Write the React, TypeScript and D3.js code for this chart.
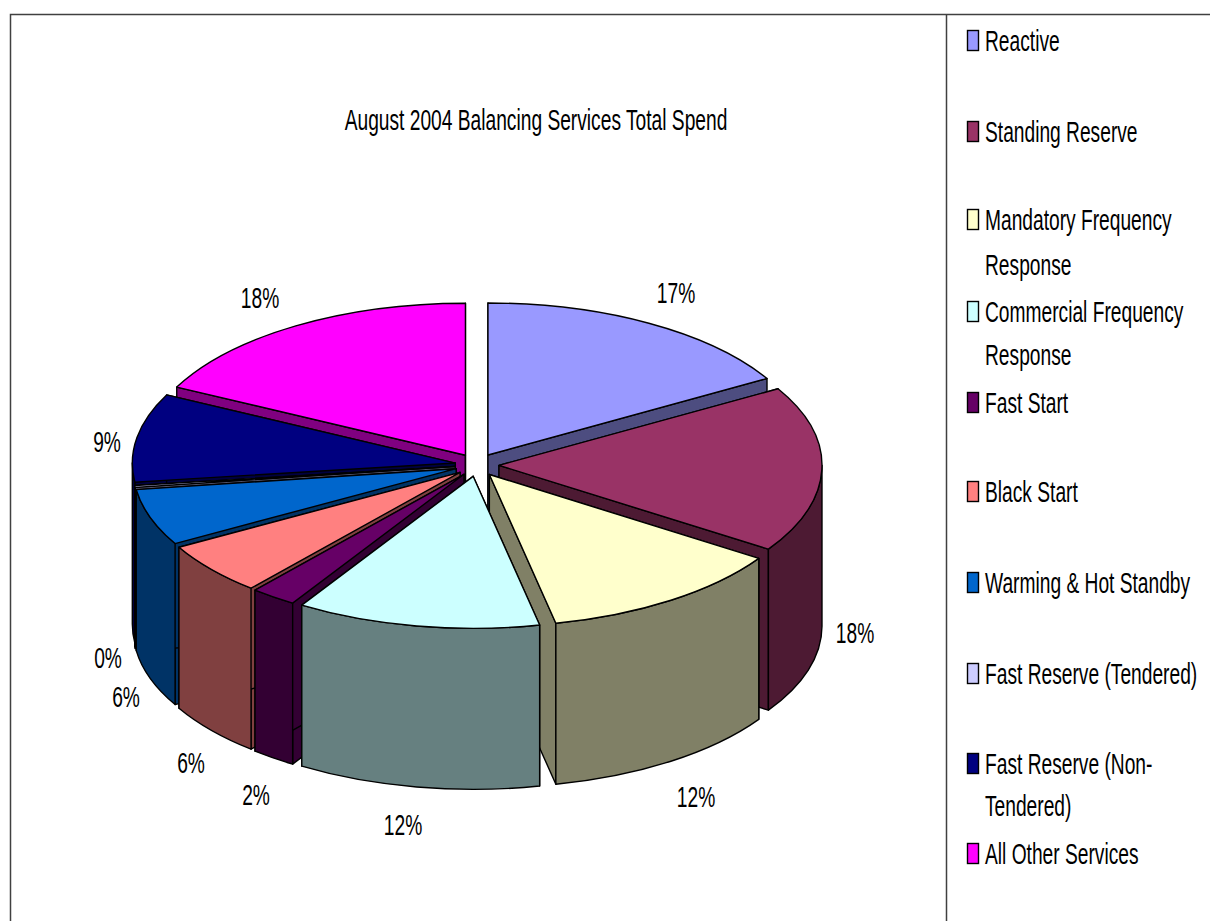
import React, { useEffect, useRef } from 'react';
import * as d3 from 'd3';

const title = 'August 2004 Balancing Services Total Spend';
const categories = [
  'Reactive',
  'Standing Reserve',
  'Mandatory Frequency Response',
  'Commercial Frequency Response',
  'Fast Start',
  'Black Start',
  'Warming & Hot Standby',
  'Fast Reserve (Tendered)',
  'Fast Reserve (Non-Tendered)',
  'All Other Services',
];
const shares = [16.6, 17.7, 12.4, 12.2, 2.3, 5.6, 6.0, 0.2, 9.4, 17.6];
const topColors = ['#9999ff', '#993366', '#ffffcc', '#ccffff', '#660066', '#ff8080', '#0066cc', '#ccccff', '#000080', '#ff00ff'];
const wallColors = ['#4d4d80', '#4d1a33', '#808066', '#668080', '#330033', '#804040', '#003366', '#666680', '#000040', '#800080'];

// legend text as wrapped in the picture
const legendLines = [
  ['Reactive'],
  ['Standing Reserve'],
  ['Mandatory Frequency', 'Response'],
  ['Commercial Frequency', 'Response'],
  ['Fast Start'],
  ['Black Start'],
  ['Warming & Hot Standby'],
  ['Fast Reserve (Tendered)'],
  ['Fast Reserve (Non-', 'Tendered)'],
  ['All Other Services'],
];
const legendRowY = [40, 131, 219, 311, 402, 491, 582, 673, 763, 853];
const legendLineGap = [0, 0, 45, 43, 0, 0, 0, 0, 42, 0];
const labelAnchors: [number, number][] = [
  [676, 292], [855, 632], [696, 796], [403, 824], [256, 794],
  [191, 762], [126, 696], [108, 657], [107, 441], [260, 297],
];

const W = 1210;
const H = 921;
const cx = 477;
const cy = 465;
const rx = 323;
const ry = 152;
const depth = 161;
const explodeX = 22;
const explodeY = 11.5;
const squeeze = 0.64;
const fontSize = 30;

const App = () => {
  const svgRef = useRef<SVGSVGElement>(null);

  useEffect(() => {
    const svg = d3.select(svgRef.current);
    svg.selectAll('*').remove();

    svg.append('rect').attr('width', W).attr('height', H).attr('fill', '#fff');

    const frame = svg.append('g').attr('stroke', '#404040').attr('stroke-width', 1.5).attr('fill', 'none');
    frame.append('path').attr('d', `M10.5,${H}V14.5H${W}`);
    frame.append('path').attr('d', `M946.5,14.5V${H}`);

    const pie = d3.pie<number>().sort(null).startAngle(0).endAngle(2 * Math.PI);
    const arcs = pie(shares).map((a, i) => {
      const mid = (a.startAngle + a.endAngle) / 2;
      return {
        i,
        start: a.startAngle,
        end: a.endAngle,
        mid,
        x: cx + explodeX * Math.sin(mid),
        y: cy - explodeY * Math.cos(mid),
      };
    });

    const pt = (s: { x: number; y: number }, a: number, dz = 0) => [
      s.x + rx * Math.sin(a),
      s.y - ry * Math.cos(a) + dz,
    ];

    // back slices first, front slices over them
    const order = d3.sort(arcs, (a) => -Math.cos(a.mid));
    const pieG = svg.append('g').attr('stroke', '#000').attr('stroke-width', 1.4).attr('stroke-linejoin', 'round');

    order.forEach((s) => {
      const g = pieG.append('g');
      const [sx, sy] = pt(s, s.start);
      const [ex, ey] = pt(s, s.end);

      // radial side walls
      [[sx, sy], [ex, ey]].forEach(([px, py]) => {
        g.append('path')
          .attr('fill', wallColors[s.i])
          .attr('d', `M${s.x},${s.y}L${px},${py}V${py + depth}L${s.x},${s.y + depth}Z`);
      });

      // rim, only the part facing the viewer
      const a0 = Math.max(s.start, Math.PI / 2);
      const a1 = Math.min(s.end, (3 * Math.PI) / 2);
      if (a1 > a0) {
        const [x0, y0] = pt(s, a0);
        const [x1, y1] = pt(s, a1);
        const large = a1 - a0 > Math.PI ? 1 : 0;
        g.append('path')
          .attr('fill', wallColors[s.i])
          .attr('d', `M${x0},${y0}A${rx},${ry} 0 ${large} 1 ${x1},${y1}V${y1 + depth}A${rx},${ry} 0 ${large} 0 ${x0},${y0 + depth}Z`);
      }

      // top face
      const large = s.end - s.start > Math.PI ? 1 : 0;
      g.append('path')
        .attr('fill', topColors[s.i])
        .attr('d', `M${s.x},${s.y}L${sx},${sy}A${rx},${ry} 0 ${large} 1 ${ex},${ey}Z`);
    });

    const text = (x: number, y: number, str: string, anchor = 'middle') =>
      svg
        .append('text')
        .attr('transform', `translate(${x},${y}) scale(${squeeze},1)`)
        .attr('dy', '0.35em')
        .attr('text-anchor', anchor)
        .attr('font-family', '"Liberation Sans", Arial, sans-serif')
        .attr('font-size', fontSize)
        .attr('fill', '#000')
        .text(str);

    text(536, 119, title);

    const fmt = d3.format('.0f');
    shares.forEach((v, i) => text(labelAnchors[i][0], labelAnchors[i][1], `${fmt(v)}%`));

    categories.forEach((c, i) => {
      const y = legendRowY[i];
      svg
        .append('rect')
        .attr('x', 967.5)
        .attr('y', y - 9.5)
        .attr('width', 11)
        .attr('height', 20)
        .attr('fill', topColors[i])
        .attr('stroke', '#000')
        .attr('stroke-width', 1.4)
        .append('title')
        .text(c);
      legendLines[i].forEach((line, k) => text(985, y + k * legendLineGap[i], line, 'start'));
    });
  }, []);

  return (
    <svg
      ref={svgRef}
      width={W}
      height={H}
      style={{ position: 'absolute', left: 0, top: 0, display: 'block' }}
    />
  );
};

export default App;
